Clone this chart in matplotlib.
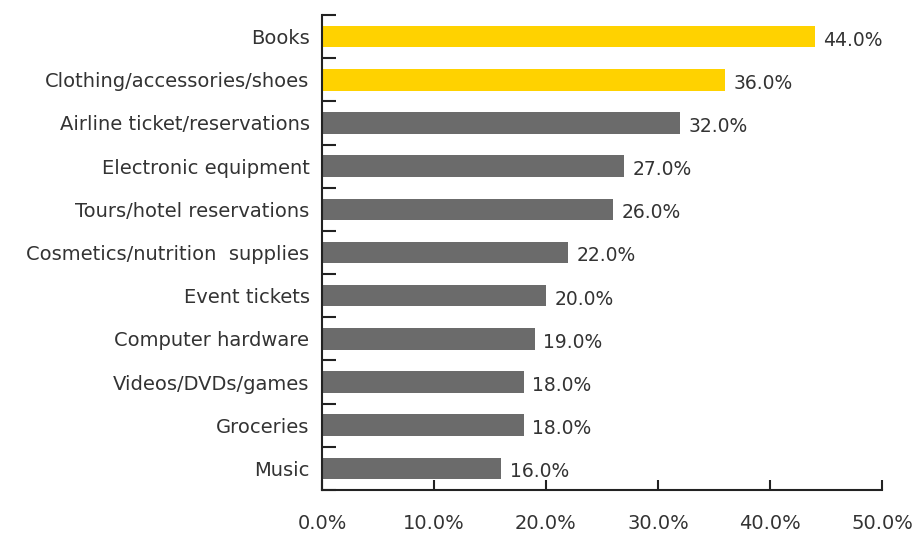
import numpy as np
import matplotlib.pyplot as plt

categories = ["Books", "Clothing/accessories/shoes", "Airline ticket/reservations",
              "Electronic equipment", "Tours/hotel reservations",
              "Cosmetics/nutrition  supplies", "Event tickets", "Computer hardware",
              "Videos/DVDs/games", "Groceries", "Music"]
values = [44.0, 36.0, 32.0, 27.0, 26.0, 22.0, 20.0, 19.0, 18.0, 18.0, 16.0]
highlight = [True, True] + [False] * 9

yellow = "#ffd200"
grey = "#6b6b6b"
txt = "#333333"
fs = 14

fig = plt.figure(figsize=(9.14, 5.37), dpi=100)
ax = fig.add_axes([322 / 914, 1 - 490 / 537, 560 / 914, 475 / 537])

y = np.arange(len(categories))
colors = [yellow if h else grey for h in highlight]
ax.barh(y, values, height=0.5, color=colors)
for yi, v in zip(y, values):
    ax.text(v + 0.75, yi + 0.08, f"{v:.1f}%", va="center", ha="left",
            fontsize=13.5, color=txt)

ax.set_ylim(len(categories) - 0.5, -0.5)
ax.set_xlim(0, 50)

# category labels sit between boundary ticks
ax.set_yticks(y)
ax.set_yticklabels(categories, fontsize=fs, color=txt)
ax.set_yticks(np.arange(-0.5, len(categories), 1.0), minor=True)
ax.tick_params(axis="y", which="major", length=0, pad=9)
ax.tick_params(axis="y", which="minor", direction="in", length=10, width=1.5, color="#222222")

ax.set_xticks(np.arange(0, 51, 10))
ax.set_xticklabels([f"{t:.1f}%" for t in np.arange(0, 51, 10)], fontsize=fs, color=txt)
ax.tick_params(axis="x", direction="in", length=7, width=1.5, pad=17, color="#222222")

for s in ["top", "right"]:
    ax.spines[s].set_visible(False)
for s in ["left", "bottom"]:
    ax.spines[s].set_linewidth(1.5)
    ax.spines[s].set_color("#222222")

fig.savefig("out.png", dpi=100)
